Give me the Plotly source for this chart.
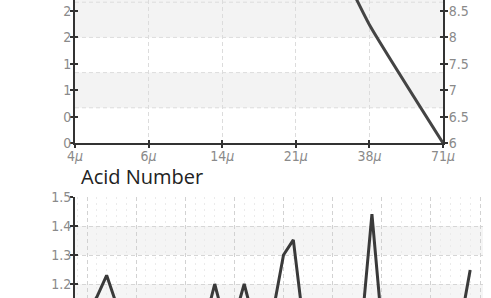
import plotly.graph_objects as go

# ---- data ----
sizes = [4, 6, 14, 21, 38, 71]
size_labels = [f"{s}μ" for s in sizes]
size_ticktext = [f"{s}<i>μ</i>" for s in sizes]
size_values = [13.5, 13.2, 12.6, 11.0, 8.24, 6.0]

acid_days = list(range(0, 40))
acid_values = [1.10, 1.155, 1.23, 1.13, 1.08, 1.06, 1.09, 1.07, 1.05, 1.08, 1.06, 1.09, 1.066, 1.20,
               1.07, 1.08, 1.20, 1.07, 1.09, 1.117, 1.30, 1.352, 1.072, 1.06, 1.08, 1.05, 1.09, 1.07,
               1.069, 1.441, 1.06, 1.08, 1.07, 1.09, 1.05, 1.08, 1.07, 1.09, 1.06, 1.248]

W, H = 491, 298
def px_x(p): return p / W
def px_y(p): return 1 - p / H

TICKFONT = dict(family="Liberation Sans Narrow, DejaVu Sans Condensed, Roboto Condensed, Roboto, sans-serif",
                size=14, color="#8a8a8a")
AX = "#333333"
GRID = "#dcdcdc"
BAND = "#f3f3f3"

top_xdom = [px_x(75), px_x(443)]
top_ydom = [px_y(143), 1.0]
bot_xdom = [px_x(75), px_x(483)]
bot_ydom = [0.0, px_y(197)]

left_range = [0, 0.4 * 143 / 26.4]
right_range = [6, 6 + 0.5 * 143 / 26.4]
bot_yrange = [1.5 - 101 / 290, 1.5]
bot_xrange = [-12 / 9.825, (483 - 87) / 9.825]

fig = go.Figure()

fig.add_trace(go.Scatter(x=size_labels, y=size_values, mode="lines", xaxis="x", yaxis="y2",
                         line=dict(color="#444444", width=3, shape="spline", smoothing=0.4),
                         hoverinfo="skip", showlegend=False))
fig.add_trace(go.Scatter(x=acid_days, y=acid_values, mode="lines", xaxis="x2", yaxis="y3",
                         line=dict(color="#3a3a3a", width=3), hoverinfo="skip", showlegend=False))
# empty traces to activate overlay axes
for xa, ya in [("x", "y4"), ("x", "y5"), ("x3", "y"), ("x2", "y6")]:
    fig.add_trace(go.Scatter(x=[], y=[], xaxis=xa, yaxis=ya, showlegend=False, hoverinfo="skip"))

common_tick = dict(tickcolor=AX, tickwidth=1.5, ticklen=3, tickfont=TICKFONT, automargin=False)
inside_tick = dict(ticks="inside", showticklabels=False, showgrid=False, zeroline=False, showline=False,
                   tickcolor=AX, tickwidth=1.5, ticklen=3, automargin=False)

fig.update_layout(
    width=W, height=H, margin=dict(l=0, r=0, t=0, b=0, pad=0, autoexpand=False),
    paper_bgcolor="white", plot_bgcolor="rgba(0,0,0,0)",
    xaxis=dict(domain=top_xdom, anchor="y", type="category", range=[0, 5],
               tickvals=size_labels, ticktext=size_ticktext, ticks="outside", ticklabelstandoff=-4,
               showline=True, linecolor=AX, linewidth=2, zeroline=False,
               showgrid=True, gridcolor=GRID, griddash="4px,3px", gridwidth=1, **common_tick),
    xaxis3=dict(overlaying="x", anchor="y", range=[0, 5], tickvals=list(range(6)), **inside_tick),
    yaxis=dict(domain=top_ydom, anchor="x", range=left_range, tick0=0, dtick=0.4, tickformat=".0f",
               ticks="outside", ticklabelstandoff=-4, showline=True, linecolor=AX, linewidth=2, showgrid=False,
               zeroline=False, **common_tick),
    yaxis2=dict(overlaying="y", anchor="x", side="right", range=right_range, tick0=6, dtick=0.5,
                ticks="outside", ticklabelstandoff=-2, showline=True, linecolor=AX, linewidth=2, showgrid=False,
                zeroline=False, **common_tick),
    yaxis4=dict(overlaying="y", anchor="x", side="left", range=left_range, tick0=0, dtick=0.4, **inside_tick),
    yaxis5=dict(overlaying="y", anchor="x", side="right", range=right_range, tick0=6, dtick=0.5, **inside_tick),
    xaxis2=dict(domain=bot_xdom, anchor="y3", range=bot_xrange, tick0=0, dtick=5,
                showticklabels=False, ticks="", showline=False, zeroline=False, automargin=False,
                showgrid=True, gridcolor="#d2d2d2", griddash="4px,3px", gridwidth=1,
                minor=dict(dtick=1, showgrid=True, gridcolor="#ebebeb", griddash="2px,4px", gridwidth=1)),
    yaxis3=dict(domain=bot_ydom, anchor="x2", range=bot_yrange, tick0=1.5, dtick=0.1, tickformat=".1f",
                ticks="outside", ticklabelstandoff=-4, showline=True, linecolor=AX, linewidth=2, zeroline=False,
                showgrid=True, gridcolor="#d6d6d6", griddash="4px,3px", gridwidth=1, **common_tick),
    yaxis6=dict(overlaying="y3", anchor="x2", side="left", range=bot_yrange, tick0=1.5, dtick=0.1, **inside_tick),
)

# bands and horizontal grid for top panel (4 equal divisions)
step = 1.6 / 3
shapes = []
shapes.append(dict(type="rect", xref="x domain", yref="y", x0=0, x1=1, y0=step, y1=2 * step,
                   fillcolor=BAND, line_width=0, layer="below"))
shapes.append(dict(type="rect", xref="x domain", yref="y", x0=0, x1=1, y0=3 * step, y1=left_range[1],
                   fillcolor=BAND, line_width=0, layer="below"))
for k in (1, 2, 3, 4):
    shapes.append(dict(type="line", xref="x domain", yref="y", x0=0, x1=1, y0=k * step, y1=k * step,
                       line=dict(color=GRID, width=1, dash="4px,3px"), layer="below"))
# bands for bottom panel
shapes.append(dict(type="rect", xref="x2 domain", yref="y3", x0=0, x1=1, y0=1.3, y1=1.4,
                   fillcolor="#f5f5f5", line_width=0, layer="below"))
shapes.append(dict(type="rect", xref="x2 domain", yref="y3", x0=0, x1=1, y0=bot_yrange[0], y1=1.2,
                   fillcolor="#f5f5f5", line_width=0, layer="below"))
fig.update_layout(shapes=shapes)

fig.add_annotation(text="Acid Number", xref="paper", yref="paper", x=px_x(80), y=px_y(176),
                   xanchor="left", yanchor="middle", showarrow=False, borderpad=0,
                   font=dict(family="Open Sans, sans-serif", size=20, color="#222222"))

fig.write_html("out.html", config={"displayModeBar": False},
               post_script="document.body.style.margin='0';document.body.style.overflow='hidden';")
